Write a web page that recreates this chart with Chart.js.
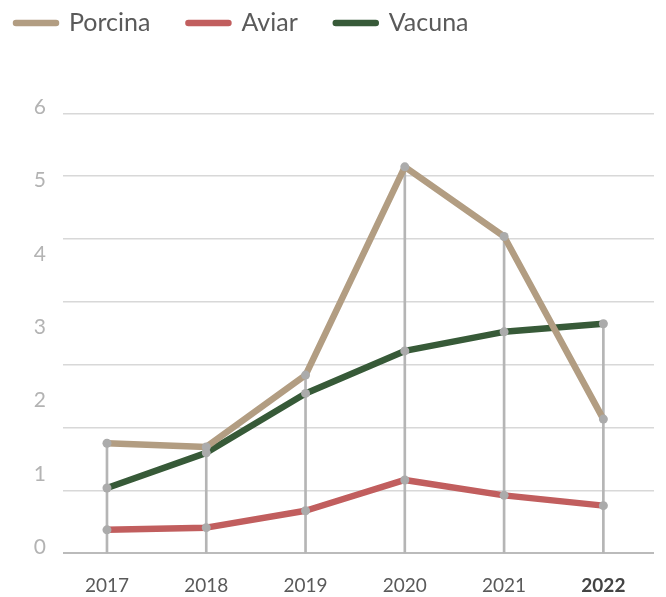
<!DOCTYPE html>
<html>
<head>
<meta charset="utf-8">
<script src="https://cdn.jsdelivr.net/npm/chart.js@4"></script>
<style>
  html, body { margin: 0; padding: 0; background: #fff; }
  #c { display: block; }
</style>
</head>
<body>
<canvas id="c" width="666" height="597"></canvas>
<script>
// ---- data ----
const years   = [2017, 2018, 2019, 2020, 2021, 2022];
const porcina = [1.50, 1.45, 2.43, 5.27, 4.32, 1.83];
const aviar   = [0.32, 0.35, 0.58, 1.00, 0.79, 0.65];
const vacuna  = [0.89, 1.37, 2.18, 2.76, 3.02, 3.13];
const seriesNames = ['Porcina', 'Aviar', 'Vacuna'];
const yTickLabels = [0, 1, 2, 3, 4, 5, 6];
const boldYear = 2022;

const colors = ['#b29d82', '#c15e5e', '#375a38'];
const seriesValues = [porcina, aviar, vacuna];

const pts = arr => years.map((x, i) => ({ x: x, y: arr[i] }));
const dropTops = years.map((_, i) => Math.max(porcina[i], aviar[i], vacuna[i]));

const lineDatasets = seriesNames.map((name, k) => ({
  type: 'line',
  label: name,
  data: pts(seriesValues[k]),
  borderColor: colors[k],
  backgroundColor: colors[k],
  borderWidth: 6.5,
  borderCapStyle: 'round',
  borderJoinStyle: 'round',
  tension: 0,
  pointRadius: 4.5,
  pointBorderWidth: 0,
  pointBackgroundColor: '#ababab',
  pointHoverRadius: 4.5,
  yAxisID: 'y',
  xAxisID: 'x',
  order: k
}));

const dropDataset = {
  type: 'bar',
  label: '_drop',
  data: pts(dropTops),
  backgroundColor: '#b5b5b5',
  barThickness: 2,
  yAxisID: 'y',
  xAxisID: 'x',
  order: 20
};

// custom legend drawn on the canvas
const legendPlugin = {
  id: 'customLegend',
  afterDraw(chart) {
    const ctx = chart.ctx;
    ctx.save();
    ctx.font = '25px Lato, "Open Sans", sans-serif';
    ctx.textBaseline = 'middle';
    ctx.textAlign = 'left';
    let x = 13;
    const y = 23;
    chart.data.datasets.forEach(ds => {
      if (ds.type !== 'line') return;
      ctx.strokeStyle = ds.borderColor;
      ctx.lineWidth = 6.5;
      ctx.lineCap = 'round';
      ctx.beginPath();
      ctx.moveTo(x + 3, y);
      ctx.lineTo(x + 43, y);
      ctx.stroke();
      ctx.fillStyle = '#5a5a5a';
      ctx.fillText(ds.label, x + 56, y);
      x += 56 + ctx.measureText(ds.label).width + 35;
    });
    ctx.restore();
  }
};

new Chart(document.getElementById('c'), {
  type: 'line',
  data: { datasets: [...lineDatasets, dropDataset] },
  options: {
    responsive: false,
    animation: false,
    devicePixelRatio: 1,
    layout: { padding: { top: 113.3, right: 12, left: 0, bottom: 0 } },
    plugins: { legend: { display: false }, tooltip: { enabled: false } },
    scales: {
      x: {
        type: 'linear',
        min: 2016.557,
        max: 2022.51,
        offset: false,
        grid: { display: false, drawTicks: false },
        border: { display: false },
        afterBuildTicks: s => { s.ticks = years.map(v => ({ value: v })); },
        afterFit: s => { s.height = 43.7; },
        ticks: {
          padding: 21,
          autoSkip: false,
          maxRotation: 0,
          callback: v => String(v),
          color: c => (c.tick && c.tick.value === boldYear) ? '#444444' : '#5a5a5a',
          font: c => ({
            family: 'Lato, "Open Sans", sans-serif',
            size: 19,
            weight: (c.tick && c.tick.value === boldYear) ? 'bold' : 'normal'
          })
        }
      },
      y: {
        type: 'linear',
        position: 'left',
        min: 0,
        max: 6,
        grid: { display: false, drawTicks: false },
        border: { display: false },
        afterBuildTicks: s => { s.ticks = yTickLabels.map(v => ({ value: v })); },
        afterFit: s => { s.width = 63; },
        ticks: {
          padding: 17,
          labelOffset: -6,
          color: '#b3b3b3',
          font: { family: 'Lato, "Open Sans", sans-serif', size: 21 }
        }
      },
      yg: {
        type: 'linear',
        position: 'right',
        min: 0,
        max: 7,
        ticks: { display: false, stepSize: 1 },
        border: { display: false },
        afterFit: s => { s.width = 0; },
        grid: {
          drawTicks: false,
          color: c => (c.tick && c.tick.value === 0) ? '#bbbbbb' : '#d8d8d8',
          lineWidth: c => (c.tick && c.tick.value === 0) ? 2 : 1.5
        }
      }
    }
  },
  plugins: [legendPlugin]
});
</script>
</body>
</html>
